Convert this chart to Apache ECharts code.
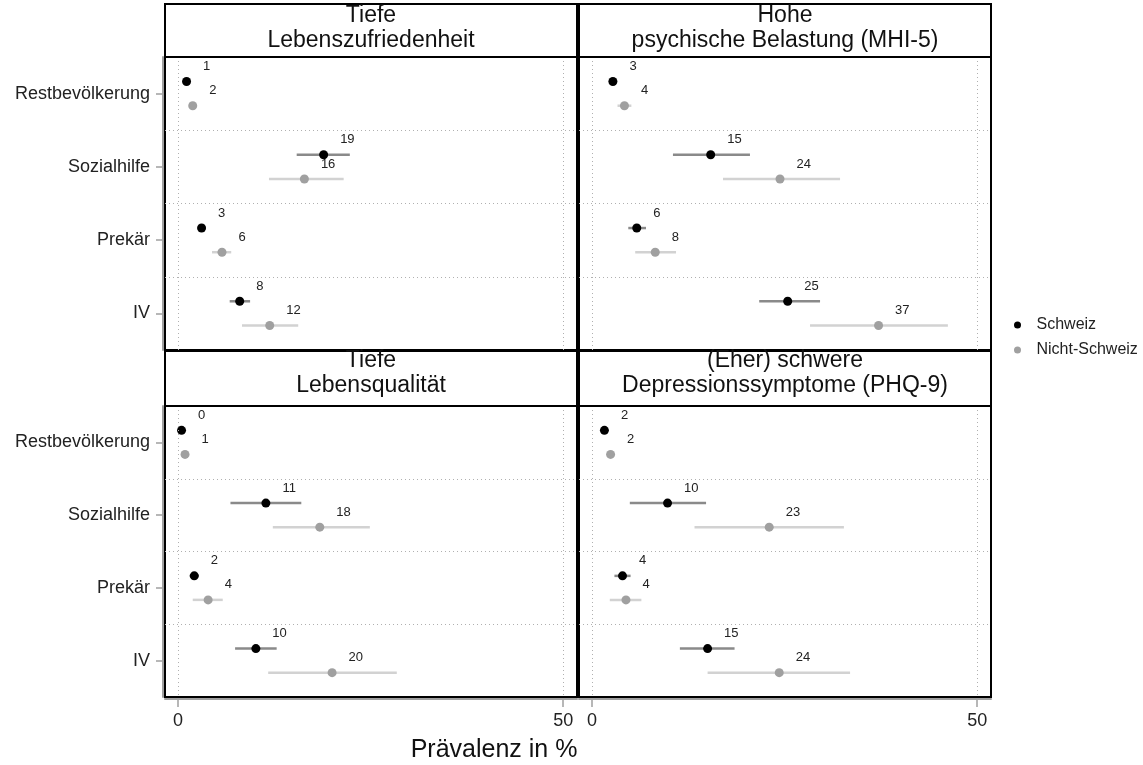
<!DOCTYPE html>
<html>
<head>
<meta charset="utf-8">
<script src="https://cdn.jsdelivr.net/npm/echarts@6/dist/echarts.min.js"></script>
<style>
  html, body { margin: 0; padding: 0; background: #fff; }
  #chart { width: 1143px; height: 765px; }
</style>
</head>
<body>
<div id="chart"></div>
<script>
// ---------- data ----------
const categories = ['Restbevölkerung', 'Sozialhilfe', 'Prekär', 'IV'];
const panelTitles = [
  'Tiefe\nLebenszufriedenheit',
  'Hohe\npsychische Belastung (MHI-5)',
  'Tiefe\nLebensqualität',
  '(Eher) schwere\nDepressionssymptome (PHQ-9)'
];
const seriesNames = ['Schweiz', 'Nicht-Schweiz'];
const xTicks = [0, 50];
const xGridLines = [0, 50];
const yGridLines = [0.5, 1.5, 2.5];
const axisTitle = 'Prävalenz in %';

// Tiefe Lebenszufriedenheit
const lzSchweiz   = [1.1, 18.9, 3.05, 8.0];
const lzSchweizLo = [0.8, 15.4, 2.7, 6.7];
const lzSchweizHi = [1.4, 22.3, 3.4, 9.35];
const lzNicht     = [1.9, 16.4, 5.7, 11.9];
const lzNichtLo   = [1.5, 11.8, 4.4, 8.3];
const lzNichtHi   = [2.4, 21.5, 6.9, 15.6];

// Hohe psychische Belastung (MHI-5)
const mhiSchweiz   = [2.7, 15.4, 5.8, 25.4];
const mhiSchweizLo = [2.3, 10.5, 4.7, 21.7];
const mhiSchweizHi = [3.1, 20.5, 7.0, 29.6];
const mhiNicht     = [4.2, 24.4, 8.2, 37.2];
const mhiNichtLo   = [3.3, 17.0, 5.6, 28.3];
const mhiNichtHi   = [5.1, 32.2, 10.9, 46.2];

// Tiefe Lebensqualität
const lqSchweiz   = [0.45, 11.4, 2.1, 10.1];
const lqSchweizLo = [0.3, 6.8, 1.5, 7.4];
const lqSchweizHi = [0.6, 16.0, 2.7, 12.8];
const lqNicht     = [0.9, 18.4, 3.9, 20.0];
const lqNichtLo   = [0.6, 12.3, 1.9, 11.7];
const lqNichtHi   = [1.2, 24.9, 5.8, 28.4];

// (Eher) schwere Depressionssymptome (PHQ-9)
const phqSchweiz   = [1.6, 9.8, 3.95, 15.0];
const phqSchweizLo = [1.3, 4.9, 2.9, 11.4];
const phqSchweizHi = [1.9, 14.8, 5.0, 18.5];
const phqNicht     = [2.4, 23.0, 4.4, 24.3];
const phqNichtLo   = [2.0, 13.3, 2.3, 15.0];
const phqNichtHi   = [2.8, 32.7, 6.4, 33.5];

// ---------- layout ----------
const FONT = '"Liberation Sans", Arial, Helvetica, sans-serif';
const panelData = [
  { s: lzSchweiz,  sLo: lzSchweizLo,  sHi: lzSchweizHi,  n: lzNicht,  nLo: lzNichtLo,  nHi: lzNichtHi },
  { s: mhiSchweiz, sLo: mhiSchweizLo, sHi: mhiSchweizHi, n: mhiNicht, nLo: mhiNichtLo, nHi: mhiNichtHi },
  { s: lqSchweiz,  sLo: lqSchweizLo,  sHi: lqSchweizHi,  n: lqNicht,  nLo: lqNichtLo,  nHi: lqNichtHi },
  { s: phqSchweiz, sLo: phqSchweizLo, sHi: phqSchweizHi, n: phqNicht, nLo: phqNichtLo, nHi: phqNichtHi }
];
const layout = [
  { left: 165, top: 57,  height: 293, hTop: 4,   hH: 53, tY: 28,  col: 0, row: 0 },
  { left: 579, top: 57,  height: 293, hTop: 4,   hH: 53, tY: 28,  col: 1, row: 0 },
  { left: 165, top: 406, height: 291, hTop: 351, hH: 55, tY: 373, col: 0, row: 1 },
  { left: 579, top: 406, height: 291, hTop: 351, hH: 55, tY: 373, col: 1, row: 1 }
];
const PW = 412;
const OFF = 0.165;

const grids = [], xAxes = [], yAxes = [], series = [], graphics = [];

function ciRender(color) {
  return function (params, api) {
    const p1 = api.coord([api.value(0), api.value(2)]);
    const p2 = api.coord([api.value(1), api.value(2)]);
    return {
      type: 'line',
      shape: { x1: p1[0], y1: p1[1], x2: p2[0], y2: p2[1] },
      style: { stroke: color, lineWidth: 2.5 }
    };
  };
}

layout.forEach((L, gi) => {
  const d = panelData[gi];
  grids.push({
    left: L.left, top: L.top, width: PW, height: L.height,
    show: true, borderColor: '#000', borderWidth: 2, backgroundColor: '#fff'
  });
  const bottom = L.row === 1;
  xAxes.push({
    type: 'value', gridIndex: gi, min: -1.7, max: 51.8, offset: 2,
    axisLine: { show: bottom, onZero: false, lineStyle: { color: '#a0a0a0', width: 2 } },
    axisTick: { show: bottom, length: 8, customValues: xTicks, lineStyle: { color: '#a0a0a0', width: 1.5 } },
    axisLabel: { show: bottom, customValues: xTicks, fontSize: 18, color: '#222', margin: 13, fontFamily: FONT },
    splitLine: { show: false }
  });
  const leftCol = L.col === 0;
  yAxes.push({
    type: 'value', gridIndex: gi, min: -0.5, max: 3.5, inverse: true, offset: 2,
    axisLine: { show: leftCol, onZero: false, lineStyle: { color: '#a0a0a0', width: 2 } },
    axisTick: { show: leftCol, length: 7, customValues: [0, 1, 2, 3], lineStyle: { color: '#a0a0a0', width: 1.5 } },
    axisLabel: {
      show: leftCol, customValues: [0, 1, 2, 3], fontSize: 18, color: '#222', margin: 13, fontFamily: FONT,
      formatter: v => categories[Math.round(v)] || ''
    },
    splitLine: { show: false }
  });

  // gridlines
  series.push({
    type: 'line', xAxisIndex: gi, yAxisIndex: gi, data: [], silent: true, z: 1,
    markLine: {
      silent: true, symbol: 'none', animation: false,
      label: { show: false },
      lineStyle: { type: [1, 3], color: '#b0b0b0', width: 1 },
      data: [
        ...xGridLines.map(v => ({ xAxis: v })),
        ...yGridLines.map(v => ({ yAxis: v }))
      ]
    }
  });
  // CI lines
  series.push({
    type: 'custom', name: 'KI ' + seriesNames[0], xAxisIndex: gi, yAxisIndex: gi, silent: true, z: 2,
    renderItem: ciRender('#8a8a8a'), encode: { x: [0, 1], y: 2 },
    data: categories.map((c, i) => [d.sLo[i], d.sHi[i], i - OFF])
  });
  series.push({
    type: 'custom', name: 'KI ' + seriesNames[1], xAxisIndex: gi, yAxisIndex: gi, silent: true, z: 2,
    renderItem: ciRender('#d2d2d2'), encode: { x: [0, 1], y: 2 },
    data: categories.map((c, i) => [d.nLo[i], d.nHi[i], i + OFF])
  });
  const lbl = {
    show: true, position: 'right', distance: 5, offset: [7, -15],
    fontSize: 13, color: '#222', fontFamily: FONT,
    formatter: p => String(Math.round(p.value[0]))
  };
  series.push({
    type: 'scatter', name: seriesNames[0], xAxisIndex: gi, yAxisIndex: gi, z: 4,
    symbol: 'circle', symbolSize: 9, itemStyle: { color: '#000', opacity: 1 },
    label: lbl,
    data: categories.map((c, i) => [d.s[i], i - OFF])
  });
  series.push({
    type: 'scatter', name: seriesNames[1], xAxisIndex: gi, yAxisIndex: gi, z: 3,
    symbol: 'circle', symbolSize: 9, itemStyle: { color: '#a0a0a0', opacity: 1 },
    label: lbl,
    data: categories.map((c, i) => [d.n[i], i + OFF])
  });

  // header strip
  graphics.push({
    type: 'rect', z: 10,
    shape: { x: L.left, y: L.hTop, width: PW, height: L.hH },
    style: { fill: '#fff', stroke: '#000', lineWidth: 2 }
  });
  graphics.push({
    type: 'text', z: 11,
    style: {
      text: panelTitles[gi], x: L.left + PW / 2, y: L.tY,
      textAlign: 'center', textVerticalAlign: 'middle',
      fontSize: 23, fontFamily: FONT, lineHeight: 25, fill: '#111'
    }
  });
});

graphics.push({
  type: 'text', z: 11,
  style: {
    text: axisTitle, x: 494, y: 750, textAlign: 'center', textVerticalAlign: 'middle',
    fontSize: 25, fontFamily: FONT, fill: '#111'
  }
});

const chart = echarts.init(document.getElementById('chart'), null, { renderer: 'canvas' });
chart.setOption({
  animation: false,
  backgroundColor: '#fff',
  textStyle: { fontFamily: FONT },
  grid: grids,
  xAxis: xAxes,
  yAxis: yAxes,
  legend: {
    data: seriesNames.map(n => ({ name: n, icon: 'circle' })),
    orient: 'vertical', left: 1009, top: 312,
    itemWidth: 28, itemHeight: 7, itemGap: 9,
    selectedMode: false,
    textStyle: { fontSize: 16, color: '#222', fontFamily: FONT }
  },
  series: series,
  graphic: graphics
});
</script>
</body>
</html>
